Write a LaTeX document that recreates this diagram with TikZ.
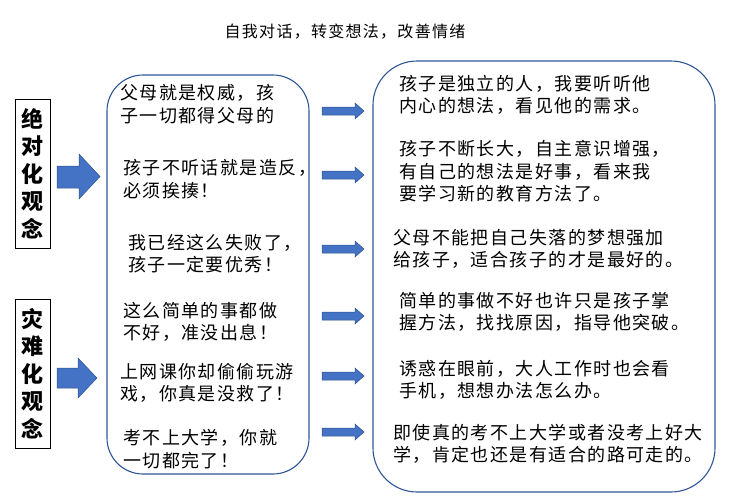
\documentclass[tikz,border=0pt]{standalone}
\usepackage{fontspec}
\setmainfont{Noto Sans CJK SC}
\newfontfamily\bodyfont[LetterSpace=8]{Noto Sans CJK SC}
\newfontfamily\titlefont[LetterSpace=8]{Noto Sans CJK SC}
\newfontfamily\labelfont{Noto Sans CJK SC}
\definecolor{arrowblue}{HTML}{4472C4}
\definecolor{arrowedge}{HTML}{2F528F}
\definecolor{boxblue}{HTML}{2F5597}
\begin{document}
\begin{tikzpicture}[x=1pt,y=-1pt,
  roundbox/.style={draw=boxblue, line width=1.1pt, rectangle, inner sep=0pt},
  labelbox/.style={draw=black, line width=1pt, rectangle, inner sep=0pt, align=center,
    font=\labelfont\bfseries\fontsize{22}{27.5}\selectfont},
  bodytext/.style={anchor=west, inner sep=0pt, align=left,
    font=\bodyfont\fontsize{18}{22.5}\selectfont},
  blockarrow/.style={fill=arrowblue, draw=arrowedge, line width=0.5pt}]
\useasboundingbox (0,0) rectangle (732,501);

% title
\node[inner sep=0pt, font=\titlefont\fontsize{16}{20}\selectfont] (title) at (345,32) {自我对话，转变想法，改善情绪};

% label boxes
\node[labelbox, minimum width=35pt, minimum height=149pt] (lab1) at (32.5,173.5) {绝\\对\\化\\观\\念};
\node[labelbox, minimum width=35pt, minimum height=149pt] (lab2) at (32.5,373.5) {灾\\难\\化\\观\\念};

% big arrows
\path[blockarrow] (57,166) -- (79,166) -- (79,154) -- (100,176.5) -- (79,199) -- (79,188) -- (57,188) -- cycle;
\path[blockarrow] (57,368) -- (78,368) -- (78,358) -- (97,378) -- (78,398) -- (78,388) -- (57,388) -- cycle;

% rounded boxes
\node[roundbox, rounded corners=36pt, minimum width=202pt, minimum height=399pt] (left) at (208,274.5) {};
\node[roundbox, rounded corners=44pt, minimum width=342pt, minimum height=431pt] (right) at (544,276.5) {};

% left texts
\node[bodytext] (l1) at (120,104) {父母就是权威，孩\\子一切都得父母的};
\node[bodytext] (l2) at (123,179) {孩子不听话就是造反，\\必须挨揍！};
\node[bodytext] (l3) at (128,253.5) {我已经这么失败了，\\孩子一定要优秀！};
\node[bodytext] (l4) at (123,322) {这么简单的事都做\\不好，准没出息！};
\node[bodytext] (l5) at (120,383) {上网课你却偷偷玩游\\戏，你真是没救了！};
\node[bodytext] (l6) at (123,449) {考不上大学，你就\\一切都完了！};

% right texts
\node[bodytext] (r1) at (399,95) {孩子是独立的人，我要听听他\\内心的想法，看见他的需求。};
\node[bodytext] (r2) at (399,171.5) {孩子不断长大，自主意识增强，\\有自己的想法是好事，看来我\\要学习新的教育方法了。};
\node[bodytext] (r3) at (393,249) {父母不能把自己失落的梦想强加\\给孩子，适合孩子的才是最好的。};
\node[bodytext] (r4) at (399,312) {简单的事做不好也许只是孩子掌\\握方法，找找原因，指导他突破。};
\node[bodytext] (r5) at (399,380) {诱惑在眼前，大人工作时也会看\\手机，想想办法怎么办。};
\node[bodytext] (r6) at (393,444) {即使真的考不上大学或者没考上好大\\学，肯定也还是有适合的路可走的。};

% small arrows
\foreach \yy in {111,175,249,316,376,432} {
  \path[blockarrow] (322,\yy-4) -- (355,\yy-4) -- (355,\yy-8) -- (364,\yy) -- (355,\yy+8) -- (355,\yy+4) -- (322,\yy+4) -- cycle;
}
\end{tikzpicture}
\end{document}
